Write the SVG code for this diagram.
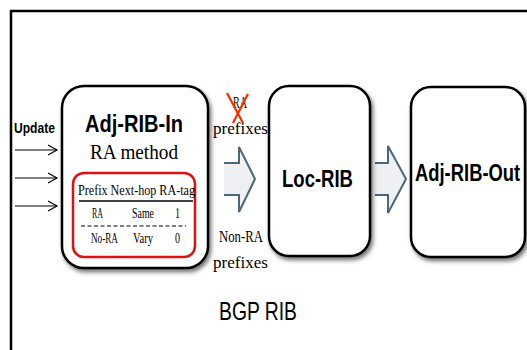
<svg xmlns="http://www.w3.org/2000/svg" width="527" height="350" viewBox="0 0 527 350">
  <style>
    .box { fill: #ffffff; stroke: #000000; stroke-width: 2.5; filter: url(#shadow); }
    .title { font-family: "Liberation Sans", Arial, sans-serif; font-weight: bold; fill: #000000; }
    .serif { font-family: "Liberation Serif", "Times New Roman", serif; fill: #000000; }
    .cell { font-family: "Liberation Serif", "Times New Roman", serif; font-size: 14px; fill: #000000; }
    .flow { fill: #eef0f3; stroke: #4d6678; stroke-width: 2; stroke-linejoin: miter; }
    .feed { stroke: #000000; stroke-width: 1.2; fill: none; }
  </style>
  <defs>
    <filter id="shadow" x="-10%" y="-10%" width="130%" height="130%">
      <feGaussianBlur in="SourceAlpha" stdDeviation="2"/>
      <feOffset dx="2" dy="3" result="blur"/>
      <feFlood flood-color="#000000" flood-opacity="0.55"/>
      <feComposite in2="blur" operator="in"/>
      <feMerge>
        <feMergeNode/>
        <feMergeNode in="SourceGraphic"/>
      </feMerge>
    </filter>
    <marker id="openHead" markerWidth="12" markerHeight="12" refX="10" refY="6" orient="auto" markerUnits="userSpaceOnUse">
      <path d="M1,1 L10,6 L1,11" fill="none" stroke="#000000" stroke-width="1.2"/>
    </marker>
  </defs>

  <rect width="527" height="350" fill="#ffffff"/>

  <!-- outer frame of the BGP RIB -->
  <path d="M11,352 L11,11 L530,11" fill="none" stroke="#000000" stroke-width="2.5"/>

  <text x="14" y="133" class="title" font-size="15" textLength="41" lengthAdjust="spacingAndGlyphs">Update</text>

  <g id="connectors">
    <line class="feed" x1="15" y1="150" x2="57" y2="150" marker-end="url(#openHead)"/>
    <line class="feed" x1="15" y1="178" x2="57" y2="178" marker-end="url(#openHead)"/>
    <line class="feed" x1="15" y1="206" x2="57" y2="206" marker-end="url(#openHead)"/>
    <!-- block arrow Adj-RIB-In to Loc-RIB -->
    <path class="flow" d="M224,163 L239,163 L239,147 L255,179 L239,212 L239,195 L224,195" />
    <!-- block arrow Loc-RIB to Adj-RIB-Out -->
    <path class="flow" d="M375,163 L388,163 L388,146 L406,179 L388,213 L388,195 L375,195" />
  </g>

  <g id="labels-prefixes">
    <text x="233" y="108" class="serif" font-size="16" textLength="14" lengthAdjust="spacingAndGlyphs">RA</text>
    <path d="M227,93 L243,123 M248,94 L233,123" stroke="#ff2a00" stroke-width="2.2" fill="none"/>
    <text x="213" y="134" class="serif" font-size="17" textLength="55" lengthAdjust="spacingAndGlyphs">prefixes</text>
    <text x="219" y="242" class="serif" font-size="17" textLength="44" lengthAdjust="spacingAndGlyphs">Non-RA</text>
    <text x="213" y="268" class="serif" font-size="17" textLength="55" lengthAdjust="spacingAndGlyphs">prefixes</text>
  </g>

  <g id="adj-rib-in">
    <rect class="box" x="62" y="86" width="146" height="182" rx="22" ry="22"/>
    <text x="85" y="132" class="title" font-size="23" textLength="98" lengthAdjust="spacingAndGlyphs">Adj-RIB-In</text>
    <text x="90" y="159" class="serif" font-size="22" textLength="88" lengthAdjust="spacingAndGlyphs">RA method</text>
    <rect x="73" y="173" width="122" height="84" rx="11" ry="11" fill="none" stroke="#e01010" stroke-width="2.5"/>
    <text class="cell" x="78" y="195" textLength="117" lengthAdjust="spacingAndGlyphs">Prefix Next-hop RA-tag</text>
    <line x1="79" y1="201" x2="193" y2="201" stroke="#000000" stroke-width="1.5"/>
    <text class="cell" x="92" y="218" textLength="11" lengthAdjust="spacingAndGlyphs">RA</text>
    <text class="cell" x="132" y="218" textLength="22" lengthAdjust="spacingAndGlyphs">Same</text>
    <text class="cell" x="175" y="218" textLength="5" lengthAdjust="spacingAndGlyphs">1</text>
    <line x1="81" y1="226" x2="186" y2="226" stroke="#000000" stroke-width="1.2" stroke-dasharray="4,2.5"/>
    <text class="cell" x="91" y="243" textLength="27" lengthAdjust="spacingAndGlyphs">No-RA</text>
    <text class="cell" x="133" y="243" textLength="20" lengthAdjust="spacingAndGlyphs">Vary</text>
    <text class="cell" x="175" y="243" textLength="5" lengthAdjust="spacingAndGlyphs">0</text>
  </g>

  <g id="loc-rib">
    <rect class="box" x="269" y="86" width="101" height="170" rx="20" ry="20"/>
    <text x="282" y="187" class="title" font-size="23" textLength="71" lengthAdjust="spacingAndGlyphs">Loc-RIB</text>
  </g>

  <g id="adj-rib-out">
    <rect class="box" x="411" y="87" width="114" height="170" rx="20" ry="20"/>
    <text class="title" font-size="23" transform="translate(415,181) scale(0.8,1)">Adj-RIB-Out</text>
  </g>

  <text x="219" y="320" font-family="Liberation Sans, Arial, sans-serif" font-size="25" fill="#000000" textLength="78" lengthAdjust="spacingAndGlyphs">BGP RIB</text>
</svg>
